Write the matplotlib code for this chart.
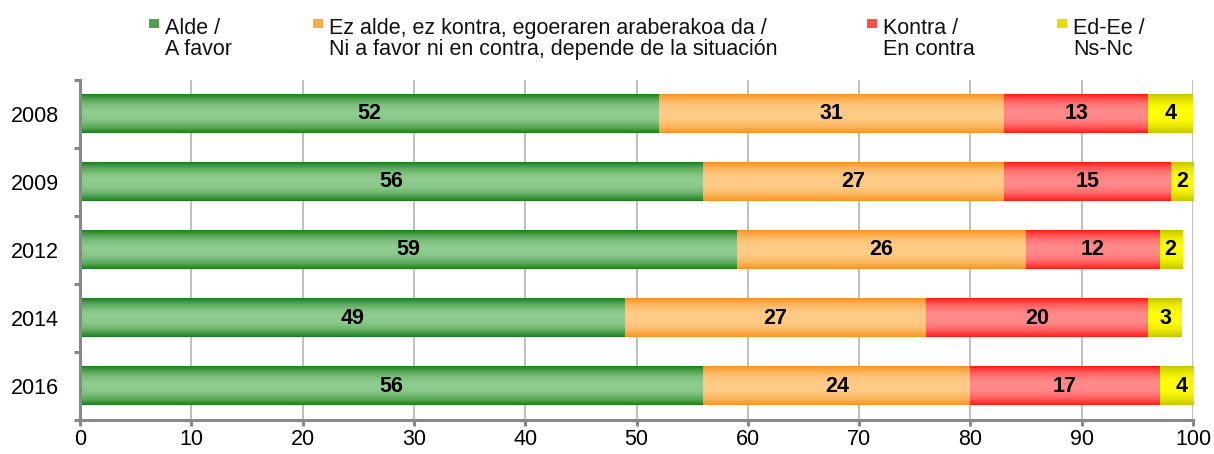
import numpy as np
import matplotlib
matplotlib.use("Agg")
import matplotlib.pyplot as plt
from matplotlib.patches import Rectangle
from matplotlib.colors import to_rgb

plt.rcParams['font.family'] = ['Liberation Sans', 'DejaVu Sans']

years = ['2008', '2009', '2012', '2014', '2016']
alde = [52, 56, 59, 49, 56]
ez_alde = [31, 27, 26, 27, 24]
kontra = [13, 15, 12, 20, 17]
ed_ee = [4, 2, 2, 3, 4]
series = [alde, ez_alde, kontra, ed_ee]
labels = ['Alde /\nA favor',
          'Ez alde, ez kontra, egoeraren araberakoa da /\nNi a favor ni en contra, depende de la situación',
          'Kontra /\nEn contra',
          'Ed-Ee /\nNs-Nc']
edge_cols = ['#1b7d1b', '#f7941d', '#ff1a1a', '#c4c400']
center_cols = ['#8fcc8f', '#ffcc88', '#ff8a8a', '#ffff00']

W, H = 1214, 454
fig = plt.figure(figsize=(W/100, H/100), dpi=100)
ax = fig.add_axes([80/W, 1-420/H, (1193-80)/W, 340/H])

FS = 15.5
h = 0.56
y = np.arange(len(years))
n = 64
t = np.abs(np.linspace(-1, 1, n))
prof = np.clip(t, 0, 1) ** 2.2

left = np.zeros(len(years))
for s, vals in enumerate(series):
    ec = np.array(to_rgb(edge_cols[s]))
    cc = np.array(to_rgb(center_cols[s]))
    grad = cc[None, :] + (ec - cc)[None, :] * prof[:, None]
    img = grad[:, None, :]
    for i, v in enumerate(vals):
        ax.imshow(img, extent=(left[i], left[i] + v, y[i] + h/2, y[i] - h/2),
                  aspect='auto', interpolation='bilinear', zorder=2)
        ax.text(left[i] + v/2, y[i], str(v), ha='center', va='center',
                fontsize=FS, fontweight='bold', color='black', zorder=3)
    left = left + np.array(vals)

ax.set_xlim(0, 100)
ax.set_ylim(len(years) - 0.5, -0.5)
ax.set_aspect('auto')
ax.set_xticks(np.arange(0, 101, 10))
ax.set_yticks(y)
ax.set_yticklabels(years)
ax.set_yticks(np.arange(-0.5, len(years), 1), minor=True)
ax.tick_params(axis='y', which='major', length=0, pad=15, labelsize=FS)
ax.tick_params(axis='y', which='minor', length=4, width=2.2, color='#888888', direction='out')
ax.tick_params(axis='x', which='major', length=4, width=2.2, color='#888888', pad=2.5, labelsize=FS)
ax.grid(axis='x', color='#b4b4b4', linewidth=1.2, zorder=0)
ax.set_axisbelow(True)
for sp in ['top', 'right']:
    ax.spines[sp].set_visible(False)
for sp in ['left', 'bottom']:
    ax.spines[sp].set_color('#888888')
    ax.spines[sp].set_linewidth(2.2)

# legend (manual, Excel-like: marker aligned with first line)
marker_x = [149, 313, 867, 1057]
for s in range(4):
    mx = marker_x[s]
    ec = np.array(to_rgb(edge_cols[s]))
    cc = np.array(to_rgb(center_cols[s]))
    mid = 0.55 * ec + 0.45 * cc
    fig.patches.append(Rectangle((mx/W, 1-28/H), 10/W, 9/H, transform=fig.transFigure,
                                 facecolor=mid, edgecolor='none', figure=fig))
    fig.text((mx + 16)/W, 1-55/H, labels[s], ha='left', va='baseline',
             fontsize=FS, linespacing=1.0, color='#111111')

fig.savefig('out.png', dpi=100)
